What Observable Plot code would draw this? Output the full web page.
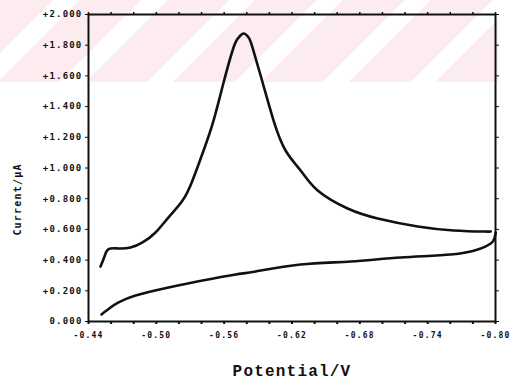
<!DOCTYPE html>
<html>
<head>
<meta charset="utf-8">
<script src="https://cdn.jsdelivr.net/npm/d3@7"></script>
<script src="https://cdn.jsdelivr.net/npm/@observablehq/plot@0.6"></script>
<style>
  html, body { margin: 0; padding: 0; background: #fff; }
  #wrap { position: relative; width: 511px; height: 382px; overflow: hidden; }
  #wm {
    position: absolute; left: 0; top: 0; width: 498px; height: 82px;
    background: repeating-linear-gradient(-45deg, #fdecef 0px, #fdecef 44px, #ffffff 44px, #ffffff 62px);
    z-index: 0;
  }
  #chart { position: absolute; left: 0; top: 0; z-index: 1; }
  #chart svg { background: transparent !important; }
</style>
</head>
<body>
<div id="wrap"><div id="wm"></div><div id="chart"></div></div>
<script>
// Cathodic (upper) sweep: potential (V) and current (µA)
const upperPotential = [-0.4506, -0.4542, -0.4577, -0.4666, -0.4772, -0.4878, -0.4993, -0.5108, -0.5232, -0.5320, -0.5418, -0.5506, -0.5595, -0.5683, -0.5728, -0.5772, -0.5816, -0.5851, -0.5940, -0.6037, -0.6143, -0.6276, -0.6427, -0.6692, -0.6958, -0.7312, -0.7630, -0.7896, -0.7958];
const upperCurrent   = [0.358, 0.425, 0.472, 0.476, 0.482, 0.515, 0.580, 0.678, 0.788, 0.919, 1.114, 1.309, 1.557, 1.785, 1.850, 1.876, 1.850, 1.785, 1.557, 1.309, 1.114, 0.984, 0.853, 0.736, 0.671, 0.619, 0.593, 0.586, 0.586];
// Return (lower) sweep
const lowerPotential = [-0.4515, -0.4595, -0.4666, -0.4816, -0.5108, -0.5409, -0.5701, -0.5878, -0.6276, -0.6719, -0.7161, -0.7604, -0.7843, -0.7958, -0.7990, -0.8002];
const lowerCurrent   = [0.046, 0.091, 0.124, 0.169, 0.221, 0.267, 0.306, 0.326, 0.371, 0.391, 0.417, 0.436, 0.469, 0.508, 0.540, 0.580];

const xLabelValues = [-0.44, -0.50, -0.56, -0.62, -0.68, -0.74, -0.80];
const xTickLabels  = ["-0.44", "-0.50", "-0.56", "-0.62", "-0.68", "-0.74", "-0.80"];
const xMinorTicks  = [-0.44, -0.46, -0.48, -0.50, -0.52, -0.54, -0.56, -0.58, -0.60, -0.62, -0.64, -0.66, -0.68, -0.70, -0.72, -0.74, -0.76, -0.78, -0.80];
const yTickValues  = [2.0, 1.8, 1.6, 1.4, 1.2, 1.0, 0.8, 0.6, 0.4, 0.2, 0.0];
const yTickLabels  = ["+2.000", "+1.800", "+1.600", "+1.400", "+1.200", "+1.000", "+0.800", "+0.600", "+0.400", "+0.200", "0.000"];
const xTitle = "Potential/V";
const yTitle = "Current/\u00b5A";

const upper = upperPotential.map((p, i) => ({p, c: upperCurrent[i]}));
const lower = lowerPotential.map((p, i) => ({p, c: lowerCurrent[i]}));
const xLab = new Map(xLabelValues.map((v, i) => [v, xTickLabels[i]]));
const yLab = new Map(yTickValues.map((v, i) => [v, yTickLabels[i]]));

const chart = Plot.plot({
  width: 511,
  height: 382,
  marginLeft: 88,
  marginRight: 16,
  marginTop: 14,
  marginBottom: 61,
  style: {background: "transparent", fontFamily: "DejaVu Sans Mono", fontWeight: "bold", fontSize: "9px", letterSpacing: "1.2px", color: "#111"},
  x: {domain: [-0.44, -0.80]},
  y: {domain: [0, 2]},
  marks: [
    Plot.axisX({anchor: "bottom", ticks: xMinorTicks, tickSize: 3, tickFormat: () => "", strokeWidth: 2, label: null}),
    Plot.axisX({anchor: "bottom", ticks: xLabelValues, tickSize: 0, tickPadding: 11, tickFormat: d => xLab.get(d), label: null, fontSize: 8}),
    Plot.axisX({anchor: "top", ticks: xMinorTicks, tickSize: 3, tickFormat: () => "", strokeWidth: 1.5, label: null}),
    Plot.axisY({anchor: "left", ticks: yTickValues, tickSize: 3, tickPadding: 3, tickFormat: d => yLab.get(d), label: null}),
    Plot.axisY({anchor: "right", ticks: yTickValues, tickSize: 3, tickFormat: () => "", label: null}),
    Plot.frame({stroke: "#111", strokeWidth: 2}),
    Plot.line(upper, {x: "p", y: "c", curve: "natural", stroke: "#111", strokeWidth: 2.6}),
    Plot.line(lower, {x: "p", y: "c", curve: "natural", stroke: "#111", strokeWidth: 2.6}),
    Plot.text([xTitle], {frameAnchor: "bottom", dy: 54, fontSize: 16, fontFamily: "Liberation Mono", fontWeight: "bold", letterSpacing: "0px", fill: "#111"}),
    Plot.text([yTitle], {frameAnchor: "bottom-left", dx: -68, dy: -122, rotate: -90, textAnchor: "middle", fontSize: 10, fill: "#111", letterSpacing: "0px"})
  ]
});
document.getElementById("chart").appendChild(chart);
</script>
</body>
</html>
